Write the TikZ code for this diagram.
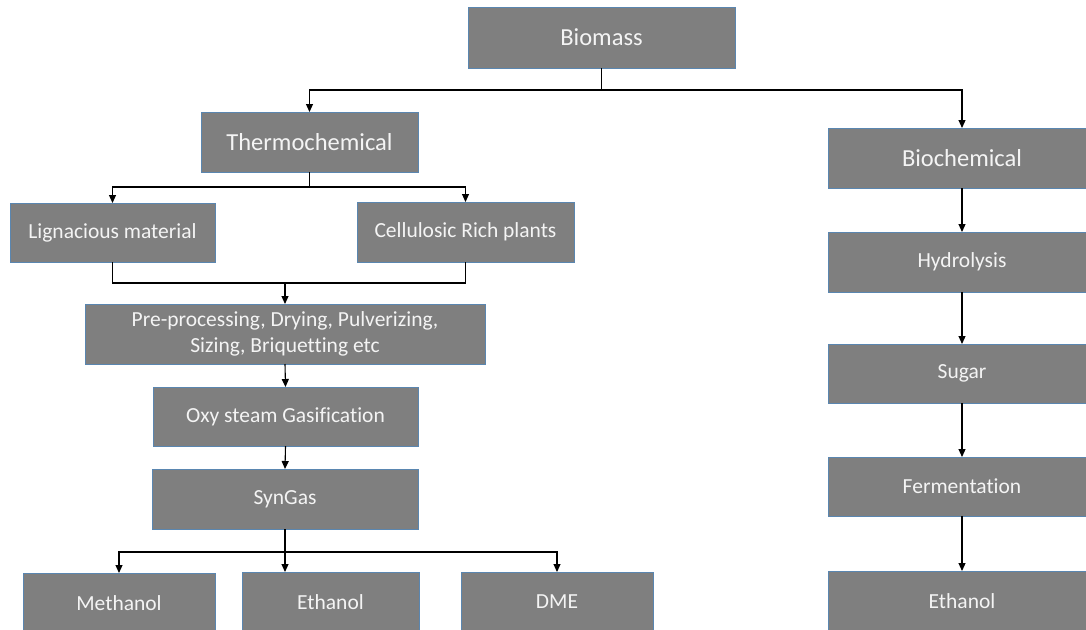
\documentclass[tikz,border=0pt]{standalone}
\usepackage{fontspec}
\setmainfont{Carlito}[Ligatures=NoCommon]
\usetikzlibrary{arrows.meta}
\definecolor{boxfill}{HTML}{7F7F7F}
\definecolor{boxline}{HTML}{5A86B0}
\definecolor{boxtext}{HTML}{F4F4F4}
\begin{document}
\begin{tikzpicture}[x=1pt,y=-1pt,
  box/.style={rectangle, fill=boxfill, draw=boxline, line width=0.8pt,
    text=boxtext, font=\fontsize{21.5}{25}\selectfont, align=center,
    inner sep=0pt, outer sep=0pt},
  bigbox/.style={box, font=\fontsize{24.5}{29}\selectfont},
  link/.style={draw=black, line width=1.1pt},
  arr/.style={link, -{Triangle[length=8pt,width=7pt]}}]
\useasboundingbox (0,0) rectangle (1086,629);
\clip (0,0) rectangle (1086,629);

% top level
\node[bigbox, minimum width=267, minimum height=61] (biomass) at (601.5,37.5) {Biomass};

% thermochemical branch
\node[bigbox, minimum width=217, minimum height=60] (thermo) at (309.5,142) {Thermochemical};
\node[box, minimum width=205, minimum height=59] (lign) at (112.5,232.5) {Lignacious material};
\node[box, minimum width=217, minimum height=60] (cell) at (465.5,232) {Cellulosic Rich plants};
\node[box, minimum width=400, minimum height=60] (pre) at (285,334) {Pre-processing, Drying, Pulverizing,\\[1pt] Sizing, Briquetting etc};
\node[box, minimum width=265, minimum height=59] (oxy) at (285.5,416.5) {Oxy steam Gasification};
\node[box, minimum width=266, minimum height=60] (syn) at (285,499) {SynGas};
\node[box, minimum width=192, minimum height=60] (meth) at (119,603) {Methanol};
\node[box, minimum width=177, minimum height=60] (eth) at (330.5,602) {Ethanol};
\node[box, minimum width=192, minimum height=60] (dme) at (557,602) {DME};

% biochemical branch
\node[bigbox, minimum width=268, minimum height=60] (bioch) at (962,158) {Biochemical};
\node[box, minimum width=268, minimum height=60] (hydro) at (962,262) {Hydrolysis};
\node[box, minimum width=268, minimum height=59] (sugar) at (962,373.5) {Sugar};
\node[box, minimum width=268, minimum height=59] (ferm) at (962,486.5) {Fermentation};
\node[box, minimum width=268, minimum height=60] (ethb) at (962,601) {Ethanol};

% junction points
\coordinate (bsplit) at (601.5,90);
\coordinate (tsplit) at (309.5,187);
\coordinate (merge) at (285,283);
\coordinate (ssplit) at (285,552);

% biomass fork
\draw[link] (biomass.south) -- (bsplit);
\draw[arr] (bsplit) -| (thermo.north);
\draw[arr] (bsplit) -| (bioch.north);

% thermochemical fork
\draw[link] (thermo.south) -- (tsplit);
\draw[arr] (tsplit) -| (lign.north);
\draw[arr] (tsplit) -| (cell.north);

% feedstocks join into pre-processing
\draw[link] (lign.south) -- (lign.south |- merge) -- (cell.south |- merge) -- (cell.south);
\draw[arr] (merge) -- (pre.north);
\draw[arr] (pre.south) -- (oxy.north);
\draw[arr] (oxy.south) -- (syn.north);

% syngas products
\draw[link] (syn.south) -- (ssplit);
\draw[arr] (ssplit) -| (meth.north);
\draw[arr] (ssplit) -- (ssplit |- eth.north);
\draw[arr] (ssplit) -| (dme.north);

% biochemical chain
\draw[arr] (bioch.south) -- (hydro.north);
\draw[arr] (hydro.south) -- (sugar.north);
\draw[arr] (sugar.south) -- (ferm.north);
\draw[arr] (ferm.south) -- (ethb.north);
\end{tikzpicture}
\end{document}
